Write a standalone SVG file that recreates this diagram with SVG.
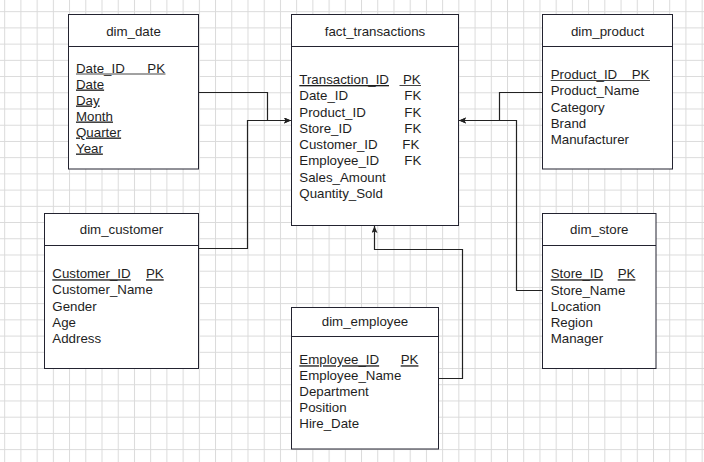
<svg xmlns="http://www.w3.org/2000/svg" width="704" height="462" viewBox="0 0 704 462">
<defs>
<pattern id="grid" patternUnits="userSpaceOnUse" x="4.2" y="11.2" width="16.22" height="16.22">
<path d="M0.5,0 V16.22 M0,0.5 H16.22" stroke="#dadada" stroke-width="1" fill="none"/>
</pattern>
<marker id="arr" markerUnits="userSpaceOnUse" markerWidth="8" markerHeight="8" refX="7" refY="3" orient="auto">
<path d="M0,0 L7,3 L0,6 L1.5,3 z" fill="#222"/>
</marker>
<style>
.box{fill:#fff;stroke:#232330;stroke-width:1}
.sep{stroke:#232330;stroke-width:1}
text{font-family:"Liberation Sans",Arial,sans-serif;font-size:13.3px;fill:#1e1e1e}
.t{text-anchor:middle}
.u{text-decoration:underline}
.ul{stroke:#444;stroke-width:1}
.c{fill:none;stroke:#222;stroke-width:1.2}
</style>
</defs>
<rect width="704" height="462" fill="#fff"/>
<rect width="704" height="462" fill="url(#grid)"/>

<g id="connectors">
<path class="c" d="M198.5,92.5 H267.5 V120.5 H291" marker-end="url(#arr)"/>
<path class="c" d="M198.5,248.5 H247.5 V120.5 H291" marker-end="url(#arr)"/>
<path class="c" d="M542.5,92.5 H499.5 V120.5 H459" marker-end="url(#arr)"/>
<path class="c" d="M542.5,290.5 H516.5 V120.5 H459" marker-end="url(#arr)"/>
<path class="c" d="M438.5,378.5 H462.5 V249.5 H374.5 V226" marker-end="url(#arr)"/>
</g>

<g id="dim_date">
<rect class="box" x="68.5" y="14.5" width="130" height="154.5"/>
<line class="sep" x1="68.5" y1="46.5" x2="198.5" y2="46.5"/>
<text class="t" x="133.5" y="35.5">dim_date</text>
<text x="76" y="72.5">Date_ID</text><text x="147.3" y="72.5">PK</text>
<line class="ul" x1="76" y1="74" x2="165.5" y2="74"/>
<text class="u" x="76" y="88.5">Date</text>
<text class="u" x="76" y="104.5">Day</text>
<text class="u" x="76" y="120.5">Month</text>
<text class="u" x="76" y="136.5">Quarter</text>
<text class="u" x="76" y="152.5">Year</text>
</g>

<g id="fact_transactions">
<rect class="box" x="291.5" y="14.5" width="167" height="211"/>
<line class="sep" x1="291.5" y1="46.5" x2="458.5" y2="46.5"/>
<text class="t" x="375" y="35.5">fact_transactions</text>
<text class="u" x="299.3" y="84">Transaction_ID</text><text x="403" y="84">PK</text>
<line class="ul" x1="399.5" y1="85.5" x2="421" y2="85.5"/>
<text x="299.3" y="100">Date_ID</text><text x="404.3" y="100">FK</text>
<text x="299.3" y="116.5">Product_ID</text><text x="404.3" y="116.5">FK</text>
<text x="299.3" y="132.8">Store_ID</text><text x="404.3" y="132.8">FK</text>
<text x="299.3" y="149.2">Customer_ID</text><text x="402.3" y="149.2">FK</text>
<text x="299.3" y="165.4">Employee_ID</text><text x="404.3" y="165.4">FK</text>
<text x="299.3" y="181.7">Sales_Amount</text>
<text x="299.3" y="197.8">Quantity_Sold</text>
</g>

<g id="dim_product">
<rect class="box" x="542.5" y="14.5" width="130" height="154.5"/>
<line class="sep" x1="542.5" y1="46.5" x2="672.5" y2="46.5"/>
<text class="t" x="607.5" y="35.5">dim_product</text>
<text x="550.7" y="79">Product_ID</text><text x="631.7" y="79">PK</text>
<line class="ul" x1="550.7" y1="80.5" x2="650" y2="80.5"/>
<text x="550.7" y="95.3">Product_Name</text>
<text x="550.7" y="111.5">Category</text>
<text x="550.7" y="127.7">Brand</text>
<text x="550.7" y="143.5">Manufacturer</text>
</g>

<g id="dim_customer">
<rect class="box" x="44.5" y="213.5" width="154" height="155"/>
<line class="sep" x1="44.5" y1="245.5" x2="198.5" y2="245.5"/>
<text class="t" x="121.5" y="233.5">dim_customer</text>
<text class="u" x="52.3" y="278.3">Customer_ID</text><text class="u" x="146" y="278.3">PK</text>
<text x="52.3" y="294.3">Customer_Name</text>
<text x="52.3" y="310.5">Gender</text>
<text x="52.3" y="326.7">Age</text>
<text x="52.3" y="342.7">Address</text>
</g>

<g id="dim_employee">
<rect class="box" x="291.5" y="307.5" width="147" height="141.5"/>
<line class="sep" x1="291.5" y1="336.5" x2="438.5" y2="336.5"/>
<text class="t" x="365" y="325.7">dim_employee</text>
<text class="u" x="299.3" y="364.3">Employee_ID</text><text class="u" x="400.7" y="364.3">PK</text>
<text x="299.3" y="380.3">Employee_Name</text>
<text x="299.3" y="396.3">Department</text>
<text x="299.3" y="412.4">Position</text>
<text x="299.3" y="428.4">Hire_Date</text>
</g>

<g id="dim_store">
<rect class="box" x="542.5" y="213.5" width="113.5" height="155"/>
<line class="sep" x1="542.5" y1="245.5" x2="656" y2="245.5"/>
<text class="t" x="599.3" y="233.5">dim_store</text>
<text class="u" x="550.7" y="278.3">Store_ID</text><text class="u" x="617.7" y="278.3">PK</text>
<text x="550.7" y="294.5">Store_Name</text>
<text x="550.7" y="310.5">Location</text>
<text x="550.7" y="327">Region</text>
<text x="550.7" y="343">Manager</text>
</g>
</svg>
